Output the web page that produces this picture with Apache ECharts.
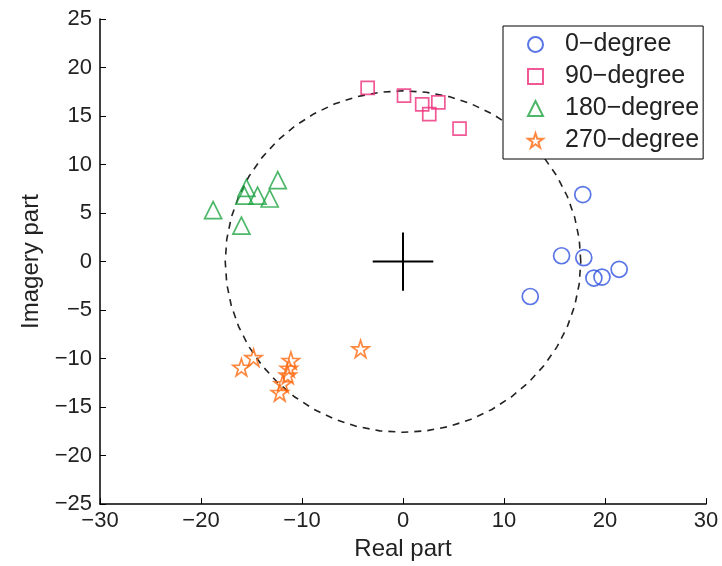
<!DOCTYPE html>
<html>
<head>
<meta charset="utf-8">
<script src="https://cdn.jsdelivr.net/npm/echarts@6/dist/echarts.min.js"></script>
<style>
    html, body { margin: 0; padding: 0; background: #fff; }
    #main { width: 722px; height: 566px; }
</style>
</head>
<body>
<div id="main"></div>
<script>
// points: [real, imagery]
const deg0 = [[17.8, 6.9], [15.7, 0.6], [17.9, 0.4], [21.4, -0.8], [18.9, -1.7], [19.7, -1.6], [12.6, -3.6]];
const deg90 = [[-3.5, 17.9], [0.1, 17.1], [1.9, 16.2], [3.5, 16.4], [2.6, 15.2], [5.6, 13.7]];
const deg180 = [[-12.4, 8.4], [-15.5, 7.6], [-15.7, 6.8], [-14.4, 6.8], [-13.2, 6.5], [-18.8, 5.3], [-16.0, 3.7]];
const deg270 = [[-16.0, -10.9], [-14.8, -9.9], [-11.1, -10.2], [-11.3, -11.0], [-11.4, -11.7], [-11.9, -12.6], [-12.2, -13.5], [-4.2, -9.0]];
// reference circle [cx, cy, r] and centre cross [cx, cy, half length]
const refCircle = [[0, 0, 17.6]];
const centreCross = [[0, 0, 3.0]];

const seriesNames = ['0\u2212degree', '90\u2212degree', '180\u2212degree', '270\u2212degree'];
const seriesColors = ['#2f52e0', '#ee2f7c', '#1fa544', '#ff6a10'];

const starPath = 'path://M50,2 L61.5,37 L98,37 L68.5,58.5 L79.5,94 L50,72 L20.5,94 L31.5,58.5 L2,37 L38.5,37 Z';

const fontFam = '"Liberation Sans", Arial, sans-serif';

function minusFmt(v) {
    return String(v).replace('-', '\u2212');
}

function scatter(name, data, symbol, size, color) {
    return {
        name: name,
        type: 'scatter',
        data: data,
        symbol: symbol,
        symbolSize: size,
        itemStyle: { color: 'rgba(0,0,0,0)', borderColor: color, borderWidth: 1.7 },
        emphasis: { disabled: true },
        z: 3
    };
}

let chart = echarts.init(document.getElementById('main'));
chart.setOption({
    animation: false,
    grid: { left: 100, right: 16, top: 19, bottom: 56 },
    legend: {
        data: seriesNames,
        orient: 'vertical',
        left: 503,
        top: 26,
        itemWidth: 15,
        itemHeight: 15,
        itemGap: 7,
        padding: [6, 4, 6, 24],
        borderColor: '#000',
        borderWidth: 1,
        backgroundColor: '#fff',
        textStyle: { fontFamily: fontFam, fontSize: 25, color: '#222', lineHeight: 25, padding: [0, 0, 0, 17] }
    },
    xAxis: {
        type: 'value',
        min: -30, max: 30, interval: 10,
        name: 'Real part',
        nameLocation: 'middle',
        nameGap: 30,
        nameTextStyle: { fontFamily: fontFam, fontSize: 24, color: '#222' },
        axisLine: { show: true, onZero: false, lineStyle: { color: '#000', width: 1.5 } },
        axisTick: { inside: true, length: 6, lineStyle: { color: '#000' } },
        axisLabel: { fontFamily: fontFam, fontSize: 22, color: '#222', margin: 6, formatter: minusFmt },
        splitLine: { show: false }
    },
    yAxis: {
        type: 'value',
        min: -25, max: 25, interval: 5,
        name: 'Imagery part',
        nameLocation: 'middle',
        nameGap: 55,
        nameTextStyle: { fontFamily: fontFam, fontSize: 24, color: '#222' },
        axisLine: { show: true, onZero: false, lineStyle: { color: '#000', width: 1.5 } },
        axisTick: { inside: true, length: 6, lineStyle: { color: '#000' } },
        axisLabel: { fontFamily: fontFam, fontSize: 22, color: '#222', margin: 8, formatter: minusFmt },
        splitLine: { show: false }
    },
    series: [
        {
            name: 'circle',
            type: 'custom',
            data: refCircle,
            silent: true,
            z: 1,
            renderItem: function (params, api) {
                const cx = api.value(0), cy = api.value(1), r = api.value(2);
                const pts = [];
                for (let i = 0; i <= 48; i++) {
                    const a = i / 48 * Math.PI * 2;
                    pts.push(api.coord([cx + r * Math.cos(a), cy + r * Math.sin(a)]));
                }
                return {
                    type: 'polyline',
                    shape: { points: pts },
                    style: { stroke: '#222', lineWidth: 1.6, lineDash: [7, 6], fill: null }
                };
            }
        },
        {
            name: 'cross',
            type: 'custom',
            data: centreCross,
            silent: true,
            z: 1,
            renderItem: function (params, api) {
                const cx = api.value(0), cy = api.value(1), h = api.value(2);
                const l = api.coord([cx - h, cy]), r = api.coord([cx + h, cy]);
                const t = api.coord([cx, cy + h]), b = api.coord([cx, cy - h]);
                const st = { stroke: '#000', lineWidth: 2 };
                return {
                    type: 'group',
                    children: [
                        { type: 'line', shape: { x1: l[0], y1: l[1], x2: r[0], y2: r[1] }, style: st },
                        { type: 'line', shape: { x1: t[0], y1: t[1], x2: b[0], y2: b[1] }, style: st }
                    ]
                };
            }
        },
        scatter(seriesNames[0], deg0, 'circle', 16, seriesColors[0]),
        scatter(seriesNames[1], deg90, 'rect', 13, seriesColors[1]),
        scatter(seriesNames[2], deg180, 'triangle', 17, seriesColors[2]),
        scatter(seriesNames[3], deg270, starPath, 17, seriesColors[3])
    ]
});
</script>
</body>
</html>
